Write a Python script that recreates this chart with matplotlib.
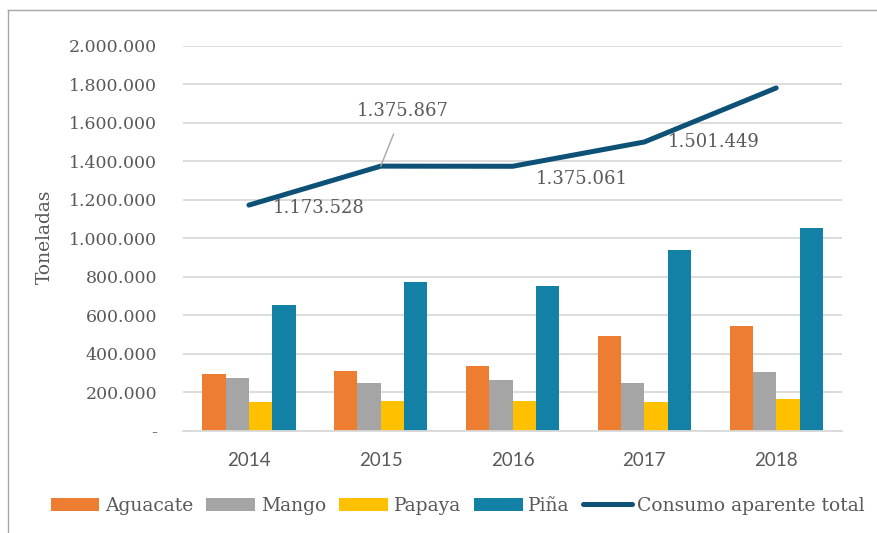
import numpy as np
import matplotlib.pyplot as plt
from matplotlib.lines import Line2D

# Datos (toneladas)
years = ['2014', '2015', '2016', '2017', '2018']
aguacate = [295000, 313000, 338000, 492000, 545000]
mango = [274000, 249000, 263000, 249000, 306000]
papaya = [151000, 156000, 154000, 151000, 166000]
pina = [653000, 774000, 753000, 940000, 1055000]
consumo = [1173528, 1375867, 1375061, 1501449, 1782000]
consumo_labels = ['1.173.528', '1.375.867', '1.375.061', '1.501.449']

series = [('Aguacate', aguacate, '#ED7D31'),
          ('Mango', mango, '#A5A5A5'),
          ('Papaya', papaya, '#FFC000'),
          ('Piña', pina, '#1380A6')]
line_color = '#0D5177'
text_color = '#595959'
serif = 'DejaVu Serif'

fig = plt.figure(figsize=(8.77, 5.33), dpi=100)
ax = fig.add_axes([0.2087, 0.1914, 0.7515, 0.7223])

x = np.arange(len(years))
w = 0.177
for i, (name, vals, col) in enumerate(series):
    ax.bar(x + (i - 1.5) * w, vals, width=w, color=col, label=name, zorder=2)

ax.plot(x, consumo, color=line_color, lw=3.6, solid_capstyle='round', zorder=3)

# etiquetas de la línea (desplazadas como en el original)
offsets = [(50, -2), (16, 40), (50, -9), (50, 0)]
for i, (lab, off) in enumerate(zip(consumo_labels, offsets)):
    if i == 1:
        ax.annotate(lab, (x[i], consumo[i]), xytext=off, textcoords='offset points',
                    ha='center', va='center', fontsize=13, family=serif, color=text_color,
                    arrowprops=dict(arrowstyle='-', color='#A6A6A6', lw=1,
                                    shrinkA=9, shrinkB=0))
    else:
        ax.annotate(lab, (x[i], consumo[i]), xytext=off, textcoords='offset points',
                    ha='center', va='center', fontsize=13, family=serif, color=text_color)

ax.set_xlim(-0.5, 4.5)
ax.set_ylim(0, 2000000)
yt = np.arange(0, 2000001, 200000)
ax.set_yticks(yt)
ax.set_yticklabels(['-'] + [f'{v:,}'.replace(',', '.') for v in yt[1:]],
                   family=serif, fontsize=12.5, color=text_color)
ax.set_xticks(x)
ax.set_xticklabels(years, family='Lato', fontsize=13.5, color=text_color)
ax.tick_params(axis='y', length=0, pad=18.5)
ax.tick_params(axis='x', length=0, pad=15)
ax.grid(axis='y', color='#D9D9D9', lw=1.3, zorder=0)
ax.set_axisbelow(True)
for s in ['top', 'right', 'left']:
    ax.spines[s].set_visible(False)
ax.spines['bottom'].set_color('#D9D9D9')
ax.spines['bottom'].set_linewidth(1.3)

ax.set_ylabel('Toneladas', family=serif, fontsize=13.5, color=text_color)
ax.yaxis.set_label_coords(-0.196, 0.505)

handles, labels = ax.get_legend_handles_labels()
handles.append(Line2D([0], [0], color=line_color, lw=3.6, solid_capstyle='round'))
labels.append('Consumo aparente total')
fig.legend(handles, labels, loc='center', bbox_to_anchor=(0.522, 0.0506), ncol=5,
           frameon=False, prop={'family': serif, 'size': 13.5}, labelcolor=text_color,
           handlelength=2.6, handletextpad=0.3, columnspacing=0.7, handleheight=0.7)

# borde del área del gráfico
fig.add_artist(Line2D([0.0091, 0.0091], [0, 0.981], color='#A6A6A6', lw=1, transform=fig.transFigure))
fig.add_artist(Line2D([0.0091, 1], [0.981, 0.981], color='#A6A6A6', lw=1, transform=fig.transFigure))

fig.savefig('out.png', dpi=100)
